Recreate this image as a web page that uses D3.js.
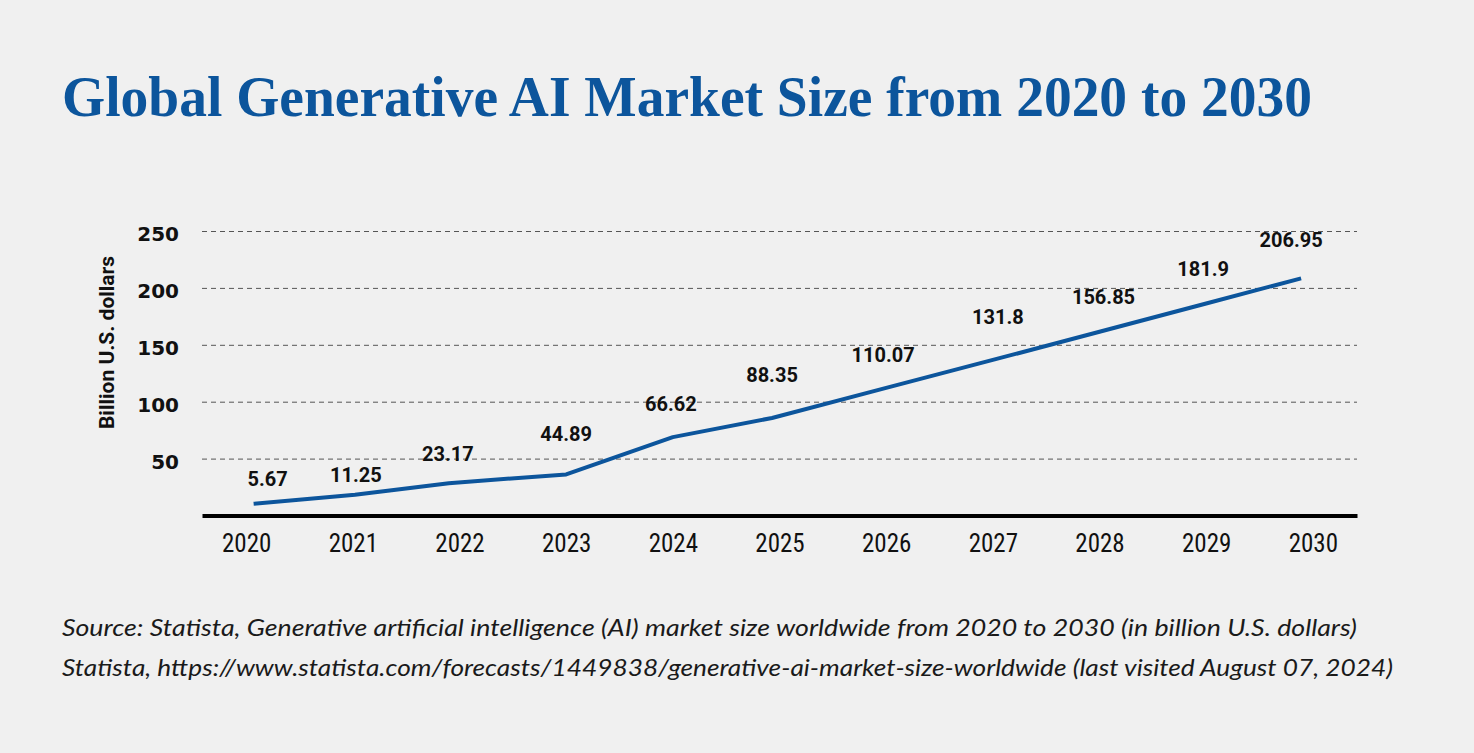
<!DOCTYPE html>
<html>
<head>
<meta charset="utf-8">
<script src="https://cdn.jsdelivr.net/npm/d3@7"></script>
<style>
  html, body { margin: 0; padding: 0; background: #f0f0f0; }
  svg { display: block; }
</style>
</head>
<body>
<svg id="chart" width="1474" height="753"></svg>
<script>
// ---- data ----
const years = [2020, 2021, 2022, 2023, 2024, 2025, 2026, 2027, 2028, 2029, 2030];
const labelValues = [5.67, 11.25, 23.17, 44.89, 66.62, 88.35, 110.07, 131.8, 156.85, 181.9, 206.95];
// the drawn line as it appears in the picture
const lineYears  = [2020.07, 2021.02, 2021.9, 2023.0, 2024.0, 2024.93, 2026, 2027, 2028, 2029, 2029.89];
const lineValues = [10.3, 18.2, 28.4, 36.1, 68.9, 85.7, 112.2, 136.7, 161.5, 186.3, 208.4];
const yTicks = [50, 100, 150, 200, 250];
const titleText = "Global Generative AI Market Size from 2020 to 2030";
const yAxisTitle = "Billion U.S. dollars";
const sourceLines = [
  "Source: Statista, Generative artificial intelligence (AI) market size worldwide from 2020 to 2030 (in billion U.S. dollars)",
  "Statista, https://www.statista.com/forecasts/1449838/generative-ai-market-size-worldwide (last visited August 07, 2024)"
];

// ---- layout ----
const plotLeft = 202, plotRight = 1357, plotTop = 231, plotBottom = 515.5;
const labelNudge = [[14,-18],[1,-13],[-1,-22],[0,-33],[-2,-26],[0,-36],[-3,-26],[5,-36],[4,-28],[-3,-27],[-10,-31]];
const blue = "#0c559c";

const svg = d3.select("#chart");

const x = d3.scaleLinear().domain([2020 - 0.414, 2030 + 0.414]).range([plotLeft, plotRight]);
const y = d3.scaleLinear().domain([0, 250]).range([plotBottom, plotTop]);

// title
svg.append("text")
  .attr("x", 62).attr("y", 116)
  .attr("font-family", "'Liberation Serif', 'DejaVu Serif', serif")
  .attr("font-weight", "bold")
  .attr("font-size", 56)
  .attr("fill", blue)
  .attr("textLength", 1250)
  .attr("lengthAdjust", "spacingAndGlyphs")
  .text(titleText);

// y axis with gridlines
const yAxis = svg.append("g")
  .attr("transform", `translate(${plotLeft},0)`)
  .call(d3.axisLeft(y).tickValues(yTicks).tickSize(-(plotRight - plotLeft)).tickPadding(23));
yAxis.select(".domain").remove();
yAxis.selectAll(".tick line")
  .attr("stroke", "#555").attr("stroke-width", 1).attr("stroke-dasharray", "5,4");
yAxis.selectAll(".tick text")
  .attr("font-family", "'DejaVu Sans', sans-serif")
  .attr("font-weight", "bold")
  .attr("font-size", 20)
  .attr("fill", "#111")
  .attr("dy", "0.48em");

// y axis title
svg.append("text")
  .attr("transform", "translate(114,342.5) rotate(-90)")
  .attr("text-anchor", "middle")
  .attr("font-family", "Roboto, sans-serif")
  .attr("font-weight", "bold")
  .attr("font-size", 21)
  .attr("fill", "#111")
  .text(yAxisTitle);

// x axis
const xAxis = svg.append("g")
  .attr("transform", `translate(0,${plotBottom})`)
  .call(d3.axisBottom(x).tickValues(years).tickSize(0).tickPadding(19).tickFormat(d3.format("d")));
xAxis.select(".domain").attr("stroke", "#000").attr("stroke-width", 4);
xAxis.selectAll(".tick text")
  .attr("font-family", "'Liberation Sans Narrow', 'Roboto Condensed', Roboto, sans-serif")
  .attr("font-size", 25)
  .attr("fill", "#111");

// line
const pts = lineYears.map((yr, i) => [yr, lineValues[i]]);
svg.append("path")
  .datum(pts)
  .attr("fill", "none")
  .attr("stroke", blue)
  .attr("stroke-width", 4)
  .attr("stroke-linejoin", "round")
  .attr("d", d3.line().x(d => x(d[0])).y(d => y(d[1])));

// value labels
svg.append("g").selectAll("text")
  .data(labelValues)
  .join("text")
  .attr("x", (d, i) => x(lineYears[i]) + labelNudge[i][0])
  .attr("y", (d, i) => y(lineValues[i]) + labelNudge[i][1])
  .attr("text-anchor", "middle")
  .attr("font-family", "Roboto, sans-serif")
  .attr("font-weight", "bold")
  .attr("font-size", 20)
  .attr("fill", "#111")
  .text(d => String(d));

// source
const srcLen = [1295, 1331];
svg.append("g").selectAll("text")
  .data(sourceLines)
  .join("text")
  .attr("x", 62)
  .attr("y", (d, i) => 636 + i * 40)
  .attr("font-family", "'Liberation Sans Narrow', Lato, sans-serif")
  .attr("font-style", "italic")
  .attr("font-size", 24)
  .attr("fill", "#1a1a1a")
  .attr("textLength", (d, i) => srcLen[i])
  .attr("lengthAdjust", "spacingAndGlyphs")
  .text(d => d);
</script>
</body>
</html>
